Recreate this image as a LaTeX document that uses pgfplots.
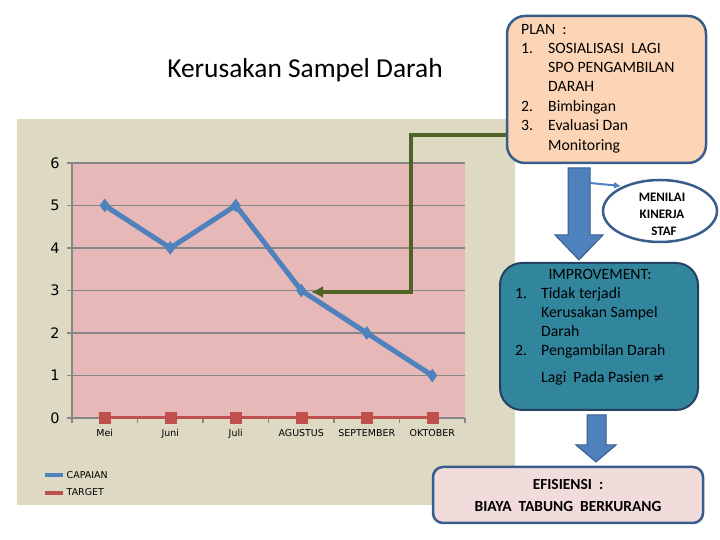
\documentclass[border=0pt]{standalone}
\usepackage{fontspec}
\setmainfont{Carlito}
\newfontfamily\tah{DejaVu Sans}
\usepackage{pgfplots}
\pgfplotsset{compat=1.18}
\usetikzlibrary{arrows.meta}
\definecolor{beige}{RGB}{221,217,195}
\definecolor{pinkbg}{RGB}{230,185,184}
\definecolor{gridgray}{RGB}{134,134,134}
\definecolor{capblue}{RGB}{79,129,189}
\definecolor{tgtred}{RGB}{192,80,77}
\definecolor{peach}{RGB}{251,213,181}
\definecolor{boxline}{RGB}{56,93,138}
\definecolor{teal}{RGB}{49,133,156}
\definecolor{tealline}{RGB}{37,64,97}
\definecolor{lightpink}{RGB}{242,220,219}
\definecolor{olive}{RGB}{79,98,40}
\begin{document}
\begin{tikzpicture}[x=1bp,y=1bp]
\useasboundingbox (0,0) rectangle (720,540);
% chart area
\fill[beige] (17,35) rectangle (515,421);
\node[font=\fontsize{27.5}{30}\selectfont] at (305,470) {Kerusakan Sampel Darah};

\begin{axis}[
at={(72bp,122bp)},anchor=south west,
scale only axis,width=393bp,height=255bp,
xmin=-0.5,xmax=5.5,ymin=0,ymax=6,
axis x line*=bottom,axis y line*=left,
axis line style={gridgray,line width=1.5bp},
axis background/.style={fill=pinkbg},
ymajorgrids,
grid style={gridgray,line width=1.5bp},
xtick={0,1,2,3,4,5},
xticklabels={Mei,Juni,Juli,AGUSTUS,SEPTEMBER,OKTOBER},
minor xtick={-0.5,0.5,1.5,2.5,3.5,4.5,5.5},
major x tick style={draw=none},
ytick={0,1,2,3,4,5,6},
tick align=outside,
major tick length=5bp,minor tick length=5bp,
tick style={gridgray,line width=1.5bp},
/pgf/number format/assume math mode=true,
yticklabel style={font=\tah\fontsize{14.5}{15}\selectfont,black,xshift=-4bp},
xticklabel style={font=\tah\fontsize{9.5}{10}\selectfont,black,yshift=-3bp},
clip=false,
legend style={draw=none,fill=none,at={(axis description cs:-0.075,-0.2)},anchor=north west,
  font=\tah\fontsize{9.5}{10}\selectfont,row sep=5bp,inner sep=0pt},
legend cell align=left,
legend image code/.code={\draw[#1,line width=4bp,mark=none] (0bp,0bp) -- (18bp,0bp);},
]
\addplot[capblue,line width=5bp,mark=diamond*,mark size=6bp,mark options={line width=1bp}] coordinates {
(0,5) (1,4) (2,5) (3,3) (4,2) (5,1)};
\addlegendentry{CAPAIAN}
\addplot[tgtred,line width=3bp,mark=square*,mark size=5.5bp,mark options={line width=0.5bp}] coordinates {
(0,0) (1,0) (2,0) (3,0) (4,0) (5,0)};
\addlegendentry{TARGET}
\end{axis}

% green elbow arrow
\draw[olive,line width=4bp,-{Latex[length=12bp,width=12bp]}] (507,405) -- (411,405) -- (411,248) -- (311,248);

% PLAN box
\draw[boxline,line width=2.5bp,fill=peach,rounded corners=18bp] (507,377) rectangle (706,524);
\begin{scope}[every node/.style={font=\fontsize{15.8}{17}\selectfont,anchor=mid west,inner sep=0pt}]
\node at (521,508) {PLAN\ \ :};
\node at (521,489) {1.}; \node at (548,489) {SOSIALISASI\ \ LAGI};
\node at (548,470) {SPO PENGAMBILAN};
\node at (548,451) {DARAH};
\node at (521,431) {2.}; \node at (548,431) {Bimbingan};
\node at (521,412) {3.}; \node at (548,412) {Evaluasi Dan};
\node at (548,392) {Monitoring};
\end{scope}

% big arrow 1
\draw[boxline,line width=1bp,fill=capblue] (568,372) -- (590,372) -- (590,305) -- (603,305) -- (579,280) -- (555,305) -- (568,305) -- cycle;
\draw[capblue,line width=2bp,-{Latex[length=7bp,width=7bp]}] (590,357) -- (621,354);

% ellipse
\draw[boxline,line width=2.5bp,fill=white] (660,329) ellipse [x radius=57,y radius=31];
\begin{scope}[every node/.style={font=\bfseries\fontsize{13}{14}\selectfont,inner sep=0pt}]
\node at (662,343) {MENILAI};
\node at (662,326) {KINERJA};
\node at (664,309) {STAF};
\end{scope}

% IMPROVEMENT box
\draw[tealline,line width=2bp,fill=teal,rounded corners=22bp] (500,130) rectangle (698,277);
\node[font=\fontsize{15.8}{17}\selectfont,inner sep=0pt] at (600,266) {IMPROVEMENT:};
\begin{scope}[every node/.style={font=\fontsize{15.8}{17}\selectfont,anchor=mid west,inner sep=0pt}]
\node at (515,244) {1.}; \node at (541,244) {Tidak terjadi};
\node at (541,225) {Kerusakan Sampel};
\node at (541,206) {Darah};
\node at (515,187) {2.}; \node at (541,187) {Pengambilan Darah};
\node at (541,160) {Lagi\ \ Pada Pasien {\tah\fontsize{14}{14}\selectfont ≠}};
\end{scope}

% big arrow 2
\draw[boxline,line width=1bp,fill=capblue] (587,125) -- (606,125) -- (606,95) -- (616,95) -- (596,78) -- (576,95) -- (587,95) -- cycle;

% EFISIENSI box
\draw[boxline,line width=2.5bp,fill=lightpink,rounded corners=10bp] (433,17) rectangle (703,73);
\node[font=\bfseries\fontsize{15.5}{17}\selectfont,inner sep=0pt] at (568,56) {EFISIENSI\ \ :};
\node[font=\bfseries\fontsize{15.5}{17}\selectfont,inner sep=0pt] at (568,34) {BIAYA\ \ TABUNG\ \ BERKURANG};
\end{tikzpicture}
\end{document}
